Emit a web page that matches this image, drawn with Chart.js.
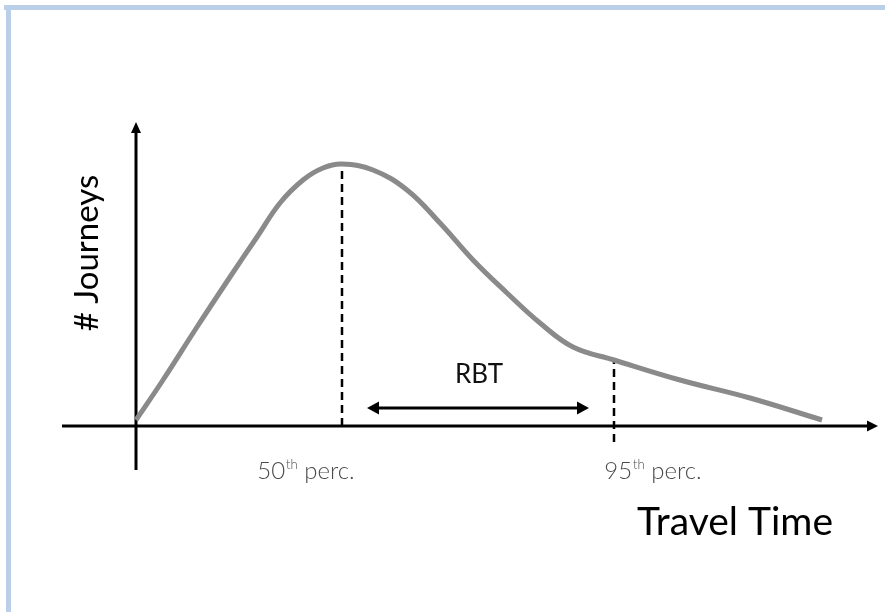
<!DOCTYPE html>
<html>
<head>
<meta charset="utf-8">
<script src="https://cdn.jsdelivr.net/npm/chart.js@4.4.0/dist/chart.umd.min.js"></script>
<style>
  html, body { margin: 0; padding: 0; background: #ffffff; }
  #wrap { position: relative; width: 885px; height: 612px; }
</style>
</head>
<body>
<div id="wrap"><canvas id="c" width="885" height="612"></canvas></div>
<script>
// ---- Data ----
// travel time (x) and number of journeys (y) along the distribution curve
const curveX = [0, 2.7, 6.1, 9.4, 12.1, 14.4, 16.7, 18.7, 20.6, 23.7, 27.1, 30.4, 33.7, 37.1, 40.4, 43.7, 47.8, 54.4, 61.4, 68.6];
const curveY = [0.6, 4.6, 9.9, 14.9, 18.9, 22.3, 24.6, 25.8, 26.2, 25.6, 23.6, 20.3, 16.6, 13.3, 10.3, 7.9, 6.6, 4.6, 2.8, 0.6];
// percentile markers
const percLabels = ["50", "95"];
const percX = [20.6, 47.8];
const percTop = [26.2, 6.6];
const percBottom = [0, -1.6];
const percLabelX = [17.0, 51.7];
// RBT span (from after 50th to before 95th)
const rbtRange = [23.1, 45.3];
const rbtLevel = 1.8;
const axisTitles = { x: "Travel Time", y: "# Journeys" };
const rangeMin = { x: -7.4, y: -4.4 };
const rangeMax = { x: 74.2, y: 30.4 };

const curve = curveX.map((x, i) => ({ x: x, y: curveY[i] }));
const dashSets = percX.map((x, i) => ({
  data: [{ x: x, y: percBottom[i] }, { x: x, y: percTop[i] }],
  borderColor: '#000000',
  borderWidth: 2.5,
  borderDash: [8, 5],
  pointRadius: 0,
  tension: 0,
  fill: false
}));

function arrowHead(ctx, x, y, dx, dy, len, half) {
  const px = -dy, py = dx;
  ctx.beginPath();
  ctx.moveTo(x, y);
  ctx.lineTo(x - dx * len + px * half, y - dy * len + py * half);
  ctx.lineTo(x - dx * len - px * half, y - dy * len - py * half);
  ctx.closePath();
  ctx.fill();
}

const decor = {
  id: 'decor',
  beforeDraw(chart) {
    const ctx = chart.ctx;
    ctx.save();
    ctx.fillStyle = '#ffffff';
    ctx.fillRect(0, 0, chart.width, chart.height);
    // light-blue frame (top and left)
    ctx.fillStyle = '#bccfe8';
    ctx.fillRect(4, 5, chart.width - 4, 5);
    ctx.fillRect(6, 5, 5, chart.height - 5);
    ctx.restore();

    const xs = chart.scales.x, ys = chart.scales.y;
    const x0 = xs.getPixelForValue(0), y0 = ys.getPixelForValue(0);
    const xl = xs.getPixelForValue(rangeMin.x), xr = xs.getPixelForValue(rangeMax.x);
    const yb = ys.getPixelForValue(rangeMin.y), yt = ys.getPixelForValue(rangeMax.y);
    ctx.save();
    ctx.strokeStyle = '#000';
    ctx.fillStyle = '#000';
    ctx.lineWidth = 3;
    ctx.beginPath(); ctx.moveTo(xl, y0); ctx.lineTo(xr - 8, y0); ctx.stroke();
    arrowHead(ctx, xr, y0, 1, 0, 11, 5.5);
    ctx.beginPath(); ctx.moveTo(x0, yb); ctx.lineTo(x0, yt + 8); ctx.stroke();
    arrowHead(ctx, x0, yt, 0, -1, 11, 5);
    ctx.restore();
  },
  afterDatasetsDraw(chart) {
    const ctx = chart.ctx;
    const xs = chart.scales.x, ys = chart.scales.y;
    ctx.save();
    // RBT double arrow
    const ry = ys.getPixelForValue(rbtLevel);
    const ra = xs.getPixelForValue(rbtRange[0]), rb = xs.getPixelForValue(rbtRange[1]);
    ctx.strokeStyle = '#000'; ctx.fillStyle = '#000'; ctx.lineWidth = 3;
    ctx.beginPath(); ctx.moveTo(ra + 8, ry); ctx.lineTo(rb - 8, ry); ctx.stroke();
    arrowHead(ctx, ra, ry, -1, 0, 12, 6.5);
    arrowHead(ctx, rb, ry, 1, 0, 12, 6.5);
    // RBT label
    ctx.font = '26px Lato, "Open Sans", sans-serif';
    ctx.fillStyle = '#111';
    ctx.textAlign = 'center';
    ctx.textBaseline = 'alphabetic';
    ctx.fillText('RBT', (ra + rb) / 2 + 1, ry - 25);

    // percentile labels
    const big = '300 24px Lato, "Open Sans", sans-serif';
    const small = '300 13px Lato, "Open Sans", sans-serif';
    percX.forEach((px, i) => {
      let x = xs.getPixelForValue(percLabelX[i]);
      const base = ys.getPixelForValue(0) + 53;
      ctx.fillStyle = '#4a4a4a';
      ctx.textAlign = 'left';
      ctx.font = big;
      const n = percLabels[i];
      const w1 = ctx.measureText(n).width;
      ctx.font = small;
      const w2 = ctx.measureText('th').width;
      ctx.font = big;
      const w3 = ctx.measureText(' perc.').width;
      const total = w1 + w2 + w3 + 1;
      x = x - total / 2;
      ctx.fillText(n, x, base);
      ctx.font = small;
      ctx.fillText('th', x + w1 + 1, base - 10);
      ctx.font = big;
      ctx.fillText(' perc.', x + w1 + w2 + 1, base);
    });

    // axis titles
    ctx.fillStyle = '#000';
    ctx.font = '39px Lato, "Open Sans", sans-serif';
    ctx.textAlign = 'right';
    ctx.textBaseline = 'alphabetic';
    ctx.fillText(axisTitles.x, xs.getPixelForValue(69.7), ys.getPixelForValue(0) + 109);

    ctx.font = '33px Lato, "Open Sans", sans-serif';
    ctx.translate(xs.getPixelForValue(-3.8), ys.getPixelForValue(17.3));
    ctx.rotate(-Math.PI / 2);
    ctx.textAlign = 'center';
    ctx.fillText(axisTitles.y, 0, 0);
    ctx.restore();
  }
};

new Chart(document.getElementById('c'), {
  type: 'line',
  data: {
    datasets: [
      {
        data: curve,
        borderColor: '#8a8a8a',
        borderWidth: 5,
        pointRadius: 0,
        tension: 0.4,
        fill: false,
        borderCapStyle: 'butt'
      },
      ...dashSets
    ]
  },
  options: {
    responsive: false,
    animation: false,
    events: [],
    layout: { padding: { left: 62, right: 7, top: 122, bottom: 142 } },
    plugins: { legend: { display: false }, tooltip: { enabled: false }, title: { display: false } },
    scales: {
      x: { type: 'linear', display: false, min: rangeMin.x, max: rangeMax.x },
      y: { type: 'linear', display: false, min: rangeMin.y, max: rangeMax.y }
    }
  },
  plugins: [decor]
});
</script>
</body>
</html>
